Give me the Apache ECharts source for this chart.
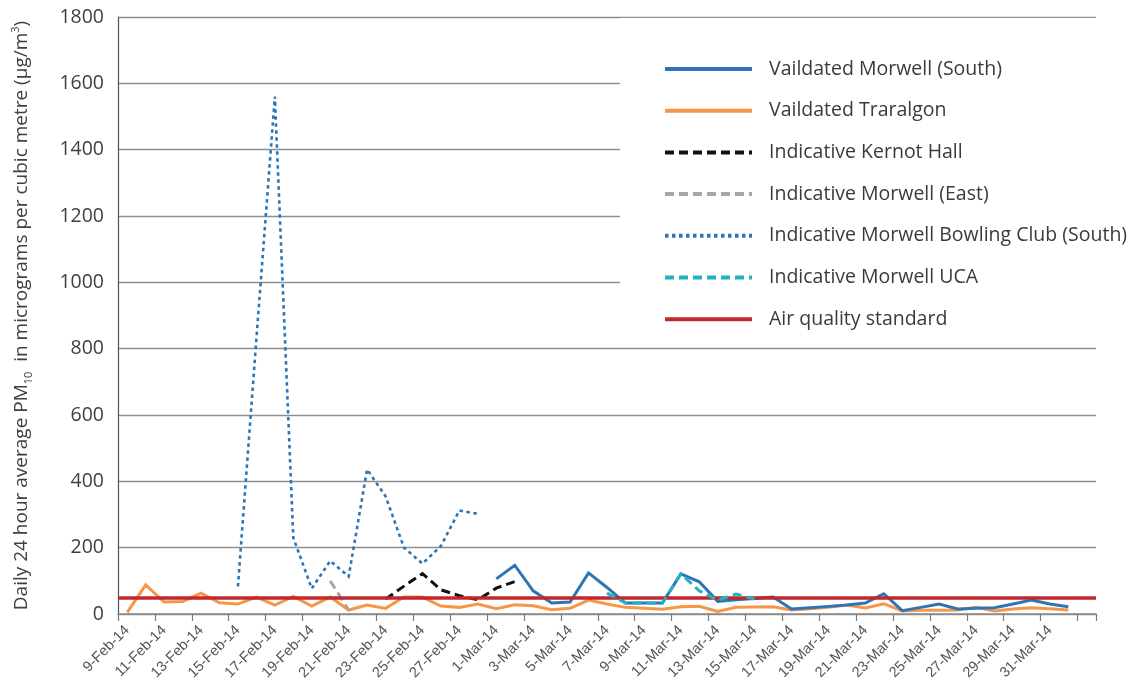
<!DOCTYPE html>
<html>
<head>
<meta charset="utf-8">
<script src="https://cdn.jsdelivr.net/npm/echarts@6/dist/echarts.min.js"></script>
<style>html,body{margin:0;padding:0;background:#fff;}#c{width:1133px;height:687px;}</style>
</head>
<body>
<div id="c"></div>
<script>
const categories = ['9-Feb-14','10-Feb-14','11-Feb-14','12-Feb-14','13-Feb-14','14-Feb-14','15-Feb-14','16-Feb-14','17-Feb-14','18-Feb-14','19-Feb-14','20-Feb-14','21-Feb-14','22-Feb-14','23-Feb-14','24-Feb-14','25-Feb-14','26-Feb-14','27-Feb-14','28-Feb-14',
'1-Mar-14','2-Mar-14','3-Mar-14','4-Mar-14','5-Mar-14','6-Mar-14','7-Mar-14','8-Mar-14','9-Mar-14','10-Mar-14','11-Mar-14','12-Mar-14','13-Mar-14','14-Mar-14','15-Mar-14','16-Mar-14','17-Mar-14','18-Mar-14','19-Mar-14','20-Mar-14','21-Mar-14','22-Mar-14','23-Mar-14','24-Mar-14','25-Mar-14','26-Mar-14','27-Mar-14','28-Mar-14','29-Mar-14','30-Mar-14','31-Mar-14','1-Apr-14','2-Apr-14'];
const LAST_LABEL_INDEX = 50;

const morwellSouth = [null,null,null,null,null,null,null,null,null,null,null,null,null,null,null,null,null,null,null,null,
106,147,70,33,36,124,80,33,33,33,121,97,38,43,47,51,15,19,23,27,33,61,10,20,30,15,17,19,30,42,30,22];
const traralgon = [5,88,36,38,63,34,30,51,27,53,24,51,12,27,17,51,51,24,20,30,
16,28,25,13,17,42,30,20,17,14,22,23,8,20,21,22,12,16,20,27,18,31,9,11,11,12,20,9,15,19,16,12];
const kernotHall = [null,null,null,null,null,null,null,null,null,null,null,null,null,null,45,84,122,73,55,43,78,98];
const morwellEast = [null,null,null,null,null,null,null,null,null,null,null,100,12];
const bowlingClub = [null,null,null,null,null,null,83,830,1560,230,77,160,113,436,355,200,152,205,312,302];
const morwellUCA = [null,null,null,null,null,null,null,null,null,null,null,null,null,null,null,null,null,null,null,null,
null,null,null,null,null,null,63,33,33,33,121,70,42,60,45];
const AIR_STANDARD = 50;

const yTicks = {min: 0, max: 1800, interval: 200};

const chart = echarts.init(document.getElementById('c'), null, {renderer: 'canvas'});
const FONT = 'Open Sans';

function lineSeries(name, data, color, width, type, z) {
  return {
    name, type: 'line', data, symbol: 'none', z: z || 3,
    connectNulls: false,
    lineStyle: {color, width, type, cap: 'butt', join: 'miter'},
    itemStyle: {color},
    emphasis: {disabled: true},
    animation: false
  };
}

const option = {
  animation: false,
  grid: {left: 118, right: 37, top: 17, bottom: 73, containLabel: false},
  legend: {
    orient: 'vertical',
    left: 620, top: 18,
    padding: [40, 10, 10, 43],
    backgroundColor: '#ffffff',
    itemWidth: 87, itemHeight: 14, itemGap: 19.7,
    itemStyle: {opacity: 0, borderWidth: 0},
    lineStyle: {width: 4},
    textStyle: {fontFamily: FONT, fontSize: 19.5, color: '#3a3a3a', lineHeight: 22, padding: [0,0,0,12]},
    selectedMode: false,
    z: 10,
    data: ['Vaildated Morwell (South)','Vaildated Traralgon','Indicative Kernot Hall','Indicative Morwell (East)','Indicative Morwell Bowling Club (South)','Indicative Morwell UCA','Air quality standard']
  },
  xAxis: {
    type: 'category',
    data: categories,
    boundaryGap: true,
    axisLine: {show: true, lineStyle: {color: '#8a8a8a', width: 1.5}},
    axisTick: {show: true, interval: 1, length: 7, lineStyle: {color: '#7a7a7a', width: 1.2}},
    axisLabel: {
      interval: (idx) => idx % 2 === 0 && idx <= LAST_LABEL_INDEX,
      rotate: 45, margin: 14,
      fontFamily: 'Liberation Sans', fontSize: 14.5, color: '#555'
    },
    splitLine: {show: false}
  },
  yAxis: {
    type: 'value',
    min: yTicks.min, max: yTicks.max, interval: yTicks.interval,
    axisLine: {show: true, lineStyle: {color: '#555', width: 1.2}},
    axisTick: {show: false},
    axisLabel: {fontFamily: FONT, fontSize: 19.5, color: '#404040', margin: 14, formatter: (v) => String(v)},
    splitLine: {show: true, lineStyle: {color: '#8f8f8f', width: 1.3}},
    name: '{a|Daily 24 hour average PM}{s|10}{a|  in micrograms per cubic metre (µg/m}{p|3}{a|)}',
    nameLocation: 'middle',
    nameGap: 84,
    nameTextStyle: {
      fontFamily: FONT, fontSize: 19, color: '#404040',
      rich: {
        a: {fontFamily: FONT, fontSize: 19, color: '#404040', lineHeight: 24},
        s: {fontFamily: FONT, fontSize: 11, color: '#404040', lineHeight: 11, verticalAlign: 'bottom'},
        p: {fontFamily: FONT, fontSize: 11, color: '#404040', lineHeight: 11, verticalAlign: 'top'}
      }
    }
  },
  series: [
    {
      name: 'Air quality standard', type: 'line', data: [], symbol: 'none', z: 2,
      lineStyle: {color: '#c1272d', width: 3.5}, itemStyle: {color: '#c1272d'},
      markLine: {
        silent: true, symbol: 'none', animation: false,
        label: {show: false},
        lineStyle: {color: '#c1272d', width: 3.5, type: 'solid'},
        data: [{yAxis: AIR_STANDARD}]
      }
    },
    lineSeries('Vaildated Traralgon', traralgon, '#f79646', 3, 'solid', 3),
    lineSeries('Vaildated Morwell (South)', morwellSouth, '#2e75b6', 3, 'solid', 4),
    lineSeries('Indicative Kernot Hall', kernotHall, '#111111', 3, [9, 5], 4),
    lineSeries('Indicative Morwell (East)', morwellEast, '#a6a6a6', 3, [9, 5], 4),
    lineSeries('Indicative Morwell Bowling Club (South)', bowlingClub, '#2e75b6', 2.6, [3.5, 3.5], 4),
    lineSeries('Indicative Morwell UCA', morwellUCA, '#1fb4bf', 3, [9, 5], 5)
  ]
};
chart.setOption(option);
</script>
</body>
</html>
